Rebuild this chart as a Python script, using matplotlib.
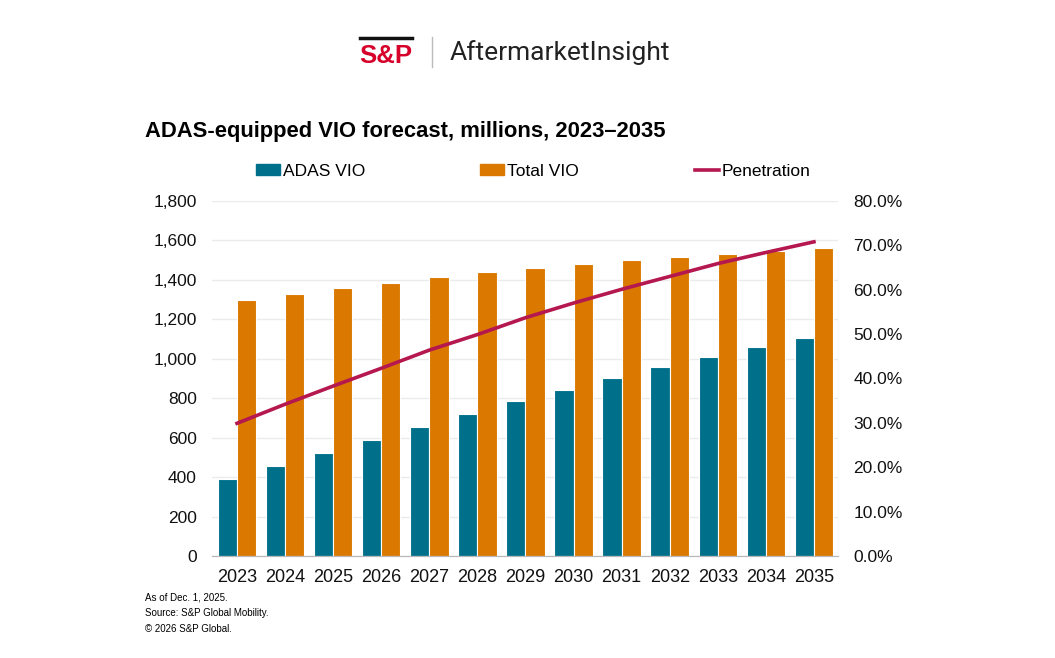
import matplotlib.pyplot as plt
import numpy as np
from matplotlib.lines import Line2D
from matplotlib.patches import Patch
from matplotlib.ticker import FuncFormatter

plt.rcParams["font.family"] = ["Liberation Sans", "DejaVu Sans"]

years = ["2023", "2024", "2025", "2026", "2027", "2028", "2029",
         "2030", "2031", "2032", "2033", "2034", "2035"]
adas_vio = [388, 454, 520, 586, 655, 718, 784, 844, 902, 956, 1010, 1059, 1105]
total_vio = [1296, 1327, 1357, 1385, 1413, 1438, 1460, 1480, 1500, 1517, 1532, 1548, 1561]
penetration = [29.9, 34.2, 38.3, 42.3, 46.4, 49.9, 53.7, 57.0, 60.1, 63.0, 65.9, 68.4, 70.8]

teal = "#006F8A"
orange = "#DA7800"
crimson = "#B5174F"

W, H = 1055, 658
fig = plt.figure(figsize=(W / 100, H / 100), dpi=100)

# plot area in pixel coords
left, right, top, bottom = 212, 838, 201, 556
ax = fig.add_axes([left / W, 1 - bottom / H, (right - left) / W, (bottom - top) / H])
ax2 = ax.twinx()

x = np.arange(len(years))
w = 0.4
ax.bar(x - w / 2, adas_vio, w, color=teal, edgecolor="white", linewidth=0.8, zorder=2)
ax.bar(x + w / 2, total_vio, w, color=orange, edgecolor="white", linewidth=0.8, zorder=2)
ax2.plot(x, penetration, color=crimson, lw=2.6, zorder=3)

ax.set_ylim(0, 1800)
ax.set_yticks(range(0, 1801, 200))
ax.yaxis.set_major_formatter(FuncFormatter(lambda v, p: f"{int(v):,}"))
ax2.set_ylim(0, 80)
ax2.set_yticks(range(0, 81, 10))
ax2.yaxis.set_major_formatter(FuncFormatter(lambda v, p: f"{v:.1f}%"))
ax.set_xlim(-0.52, len(years) - 0.5)
ax.set_xticks(x)
ax.set_xticklabels(years)

ax.grid(axis="y", color="#EBEBEB", lw=1, zorder=0)
ax.set_axisbelow(True)
for a in (ax, ax2):
    for s in ("top", "left", "right"):
        a.spines[s].set_visible(False)
    a.spines["bottom"].set_color("#B8B8B8")
    a.tick_params(length=0, labelsize=12.5, colors="#111111")
ax.tick_params(axis="y", pad=11)
ax2.tick_params(axis="y", pad=11)
ax.tick_params(axis="x", pad=9, labelsize=13)
ax.set_zorder(ax2.get_zorder() - 1)
ax.patch.set_visible(False)

# header
fig.add_artist(Line2D([360 / W, 412 / W], [1 - 37.5 / H] * 2, color="#111111", lw=2.5))
fig.text(359 / W, 1 - 56 / H, "S&P", color="#D6002A", fontsize=18.5, fontweight="bold", va="center")
fig.add_artist(Line2D([432 / W] * 2, [1 - 37 / H, 1 - 67 / H], color="#BBBBBB", lw=1))
fig.text(450 / W, 1 - 53 / H, "AftermarketInsight", color="#222222", fontsize=19,
         family=["Roboto", "DejaVu Sans"], va="center")

fig.text(145 / W, 1 - 131 / H, "ADAS-equipped VIO forecast, millions, 2023\u20132035",
         fontsize=15.8, fontweight="bold", va="center")

handles = [Patch(color=teal), Patch(color=orange), Line2D([], [], color=crimson, lw=2.6)]
labels = ["ADAS VIO", "Total VIO", "Penetration"]
for h, lab, px in zip(handles, labels, [249, 473, 688]):
    fig.legend([h], [lab], loc="center left", bbox_to_anchor=(px / W - 0.008, 1 - 171 / H),
               frameon=False, fontsize=12.5, handlelength=1.4, handletextpad=0.15,
               handleheight=0.55)

notes = ["As of Dec. 1, 2025.", "Source: S&P Global Mobility.", "\u00a9 2026 S&P Global."]
for i, t in enumerate(notes):
    fig.text(145 / W, 1 - (598 + i * 15.5) / H, t, fontsize=7, va="center")

fig.savefig("out.png", dpi=100)
